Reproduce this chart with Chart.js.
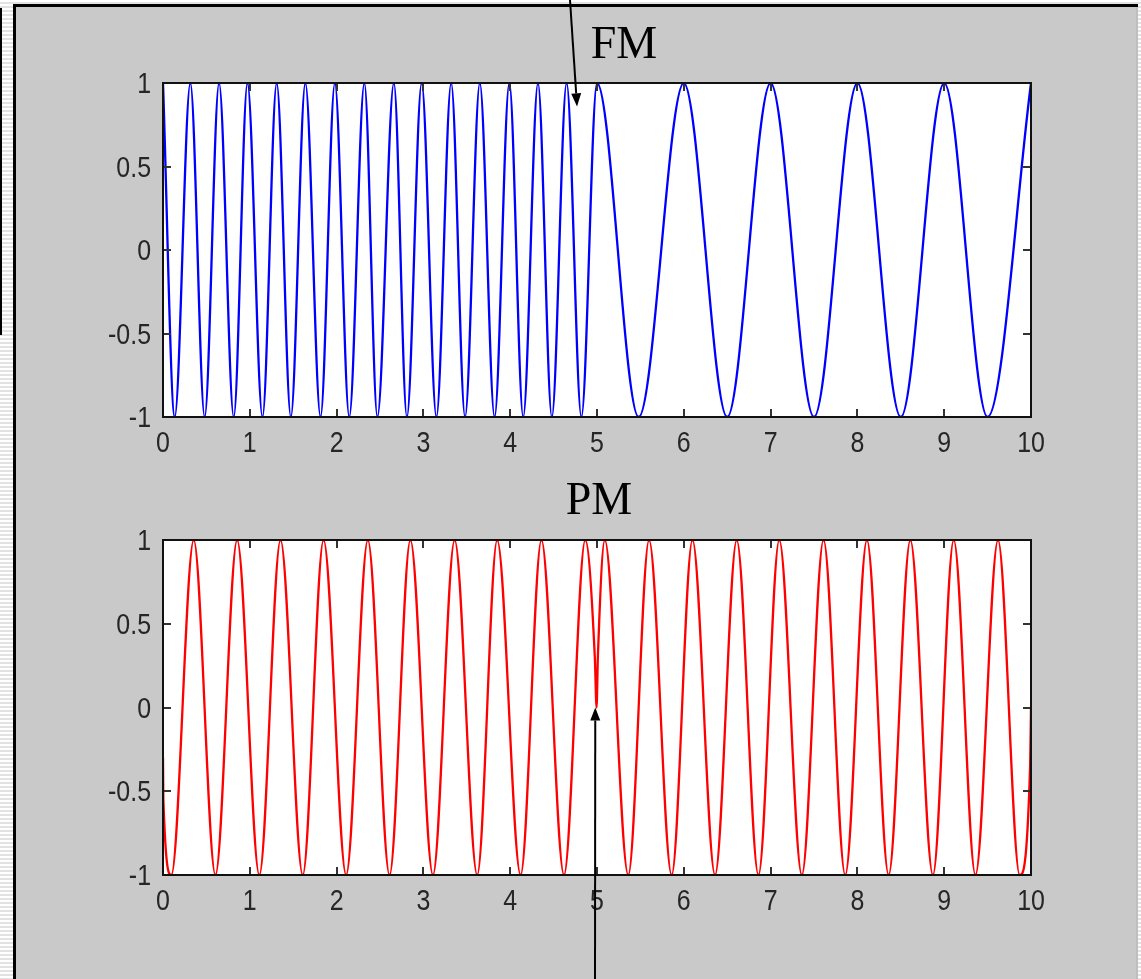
<!DOCTYPE html>
<html>
<head>
<meta charset="utf-8">
<script src="https://cdn.jsdelivr.net/npm/chart.js@4.4.1/dist/chart.umd.min.js"></script>
<style>
  html, body { margin: 0; padding: 0; }
  body {
    width: 1141px; height: 979px; position: relative; overflow: hidden;
    background: repeating-linear-gradient(to bottom, #ffffff 0px, #ffffff 2px, #e2e2e2 2px, #e2e2e2 4px);
  }
  #leftbar { position: absolute; left: 0; top: 8px; width: 2px; height: 327px; background: #000; }
  #frame {
    position: absolute; left: 13px; top: 4px; width: 1125px; height: 975px;
    background: #c8c9c8; border-left: 3px solid #000; border-top: 3px solid #000;
    box-sizing: border-box;
  }
  #frame::after { content: ""; position: absolute; right: 0; top: 0; width: 2px; height: 100%; background: #bdbebd; }
  canvas { position: absolute; left: 0; }
  #fm { top: 0; }
  #pm { top: 465px; }
</style>
</head>
<body>
<div id="leftbar"></div>
<div id="frame"></div>
<canvas id="fm" width="1141" height="465"></canvas>
<canvas id="pm" width="1141" height="514"></canvas>
<script>
// values: times of the peaks / troughs and a few special samples
const xTicks = [0, 1, 2, 3, 4, 5, 6, 7, 8, 9, 10];
const xTickLabels = ['0', '1', '2', '3', '4', '5', '6', '7', '8', '9', '10'];
const yTicks = [-1, -0.5, 0, 0.5, 1];
const yTickLabels = ['-1', '-0.5', '0', '0.5', '1'];

const fmTimes = [0, 0.135, 0.315, 0.48, 0.646, 0.815, 0.973, 1.146, 1.31, 1.473,
  1.64, 1.815, 1.98, 2.146, 2.32, 2.47, 2.66, 2.81, 2.98, 3.15,
  3.32, 3.48, 3.65, 3.82, 3.99, 4.15, 4.32, 4.48, 4.65, 4.82,
  5.0, 5.48, 6.0, 6.5, 7.0, 7.5, 8.0, 8.5, 9.0, 9.5, 10];
const fmValues = [1, -1, 1, -1, 1, -1, 1, -1, 1, -1,
  1, -1, 1, -1, 1, -1, 1, -1, 1, -1,
  1, -1, 1, -1, 1, -1, 1, -1, 1, -1,
  1, -1, 1, -1, 1, -1, 1, -1, 1, -1, 1];

const pmTimes = [0, 0.004, 0.096, 0.354, 0.604, 0.854, 1.11, 1.354, 1.61, 1.85,
  2.11, 2.36, 2.61, 2.85, 3.11, 3.36, 3.62, 3.85, 4.12, 4.36,
  4.62, 4.865, 4.975, 4.995, 5.01, 5.09, 5.36, 5.60, 5.86, 6.10,
  6.36, 6.61, 6.86, 7.10, 7.36, 7.61, 7.86, 8.11, 8.36, 8.61,
  8.87, 9.11, 9.36, 9.62, 9.87, 9.99, 10];
const pmValues = [-0.3, -0.55, -1, 1, -1, 1, -1, 1, -1, 1,
  -1, 1, -1, 1, -1, 1, -1, 1, -1, 1,
  -1, 1, 0.3, 0, 0.3, 1, -1, 1, -1, 1,
  -1, 1, -1, 1, -1, 1, -1, 1, -1, 1,
  -1, 1, -1, 1, -1, -0.35, 0];

const toPoints = (xs, ys) => xs.map((x, i) => ({ x: x, y: ys[i] }));

const labelFont = "29px 'Liberation Sans', Arial, sans-serif";
const labelSqueeze = 0.86;   // the original uses a narrow bitmap font

function squeezedText(ctx, text, x, y, align) {
  ctx.save();
  ctx.translate(x, y);
  ctx.scale(labelSqueeze, 1);
  ctx.textAlign = align;
  ctx.fillText(text, 0, 0);
  ctx.restore();
}

// white axes box, inward ticks on all four sides, tick labels, title and arrow
const matlabAxes = {
  id: 'matlabAxes',
  beforeDatasetsDraw(chart) {
    const a = chart.chartArea, ctx = chart.ctx;
    ctx.save();
    ctx.fillStyle = '#ffffff';
    ctx.fillRect(a.left, a.top, a.right - a.left, a.bottom - a.top);
    ctx.restore();
  },
  afterDatasetsDraw(chart, args, opts) {
    const a = chart.chartArea, ctx = chart.ctx;
    const xs = chart.scales.x, ys = chart.scales.y;
    const tl = 8;
    ctx.save();
    ctx.strokeStyle = '#333333';
    ctx.lineWidth = 2;
    ctx.beginPath();
    xTicks.forEach(v => {
      const px = Math.round(xs.getPixelForValue(v));
      ctx.moveTo(px, a.bottom); ctx.lineTo(px, a.bottom - tl);
      ctx.moveTo(px, a.top); ctx.lineTo(px, a.top + tl);
    });
    yTicks.forEach(v => {
      const py = Math.round(ys.getPixelForValue(v));
      ctx.moveTo(a.left, py); ctx.lineTo(a.left + tl, py);
      ctx.moveTo(a.right, py); ctx.lineTo(a.right - tl, py);
    });
    ctx.stroke();
    ctx.strokeStyle = '#111111';
    ctx.strokeRect(a.left, a.top, a.right - a.left, a.bottom - a.top);

    // tick labels
    ctx.fillStyle = '#262626';
    ctx.font = labelFont;
    ctx.textBaseline = 'alphabetic';
    xTicks.forEach((v, i) => {
      squeezedText(ctx, xTickLabels[i], xs.getPixelForValue(v), a.bottom + 35, 'center');
    });
    yTicks.forEach((v, i) => {
      squeezedText(ctx, yTickLabels[i], a.left - 12, ys.getPixelForValue(v) + 10, 'right');
    });

    // title
    ctx.fillStyle = '#000';
    ctx.font = "46px 'Liberation Serif', 'Times New Roman', serif";
    ctx.textAlign = 'center';
    ctx.fillText(opts.title, opts.titleX, opts.titleY);

    // arrow
    const tx = xs.getPixelForValue(opts.arrowTip[0]);
    const ty = ys.getPixelForValue(opts.arrowTip[1]);
    const fx = opts.arrowFrom[0], fy = opts.arrowFrom[1];
    const ang = Math.atan2(ty - fy, tx - fx);
    const hl = 13, hw = 5;
    const bx = tx - hl * Math.cos(ang), by = ty - hl * Math.sin(ang);
    ctx.strokeStyle = '#000';
    ctx.lineWidth = 2;
    ctx.beginPath();
    ctx.moveTo(fx, fy); ctx.lineTo(bx, by);
    ctx.stroke();
    ctx.fillStyle = '#000';
    ctx.beginPath();
    ctx.moveTo(tx, ty);
    ctx.lineTo(bx + hw * Math.sin(ang), by - hw * Math.cos(ang));
    ctx.lineTo(bx - hw * Math.sin(ang), by + hw * Math.cos(ang));
    ctx.closePath();
    ctx.fill();
    ctx.restore();
  }
};

function makeChart(id, points, color, padTop, xHeight, extra) {
  return new Chart(document.getElementById(id), {
    type: 'line',
    data: {
      datasets: [{
        data: points,
        borderColor: color,
        borderWidth: 2.3,
        pointRadius: 0,
        fill: false,
        cubicInterpolationMode: 'monotone'
      }]
    },
    options: {
      responsive: false,
      animation: false,
      devicePixelRatio: 1,
      layout: { padding: { top: padTop, left: 20, right: 110, bottom: 0 } },
      plugins: {
        legend: { display: false },
        tooltip: { enabled: false },
        matlabAxes: extra
      },
      scales: {
        x: {
          type: 'linear', min: 0, max: 10,
          grid: { display: false },
          border: { display: false },
          ticks: { display: false },
          afterBuildTicks: s => { s.ticks = xTicks.map(v => ({ value: v })); },
          afterFit: s => { s.height = xHeight; }
        },
        y: {
          min: -1, max: 1,
          grid: { display: false },
          border: { display: false },
          ticks: { display: false },
          afterBuildTicks: s => { s.ticks = yTicks.map(v => ({ value: v })); },
          afterFit: s => { s.width = 143; }
        }
      }
    },
    plugins: [matlabAxes]
  });
}

makeChart('fm', toPoints(fmTimes, fmValues), '#0000ff', 83, 48,
  { title: 'FM', titleX: 624, titleY: 58, arrowFrom: [570, 0], arrowTip: [4.77, 0.86] });
makeChart('pm', toPoints(pmTimes, pmValues), '#ff0000', 75, 104,
  { title: 'PM', titleX: 599, titleY: 49, arrowFrom: [595, 514], arrowTip: [4.98, 0] });
</script>
</body>
</html>
